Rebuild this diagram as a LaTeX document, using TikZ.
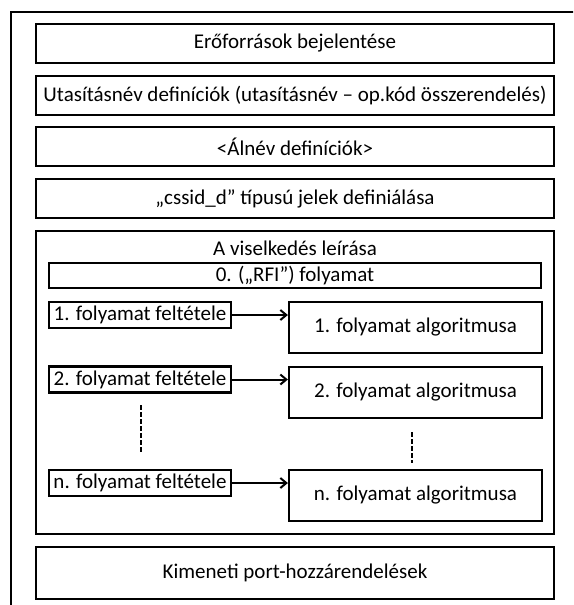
\documentclass[tikz,border=0pt]{standalone}
\usepackage{fontspec}
\setmainfont{Carlito}
\usetikzlibrary{arrows.meta}
\begin{document}
\begin{tikzpicture}[x=1pt,y=-1pt,
  frame/.style={draw, line width=2pt},
  txt/.style={font=\fontsize{21}{24}\selectfont},
  block/.style={draw, line width=2.2pt, inner sep=0pt, align=center, txt},
  wide/.style={block, minimum width=518pt, minimum height=39pt},
  cond/.style={block, minimum width=182pt, minimum height=26pt},
  algo/.style={block, minimum width=253pt, minimum height=51pt},
  flow/.style={line width=2pt, -{Straight Barb[length=6pt,width=10pt,line width=2pt]}},
  skip/.style={line width=2pt, dash pattern=on 4.5pt off 2.5pt}]
  \useasboundingbox (0,0) rectangle (573,605);
  \begin{scope}
    \clip (0,0) rectangle (573,605);
    \draw[frame] (11,12) rectangle (620,660);
  \end{scope}

  % top-level sections
  \node[wide] (res) at (295,43.5) {Erőforrások bejelentése};
  \node[wide] (op) at (295,95.5) {Utasításnév definíciók (utasításnév – op.kód összerendelés)};
  \node[wide] (alias) at (295,146.5) {<Álnév definíciók>};
  \node[wide] (sig) at (295,198.5) {„cssid\_d” típusú jelek definiálása};

  % behaviour section
  \node[block, minimum width=518pt, minimum height=303pt] (beh) at (295,382.5) {};
  \node[txt, inner sep=0pt] (behtitle) at (295,248) {A viselkedés leírása};
  \node[block, minimum width=492pt, minimum height=25pt] (rfi) at (295,275.5) {0. („RFI”) folyamat};

  \node[cond] (c1) at (140,315) {1. folyamat feltétele};
  \node[algo] (a1) at (415.5,327.5) {1. folyamat algoritmusa};
  \node[cond] (c2) at (140,379.5) {2. folyamat feltétele};
  \node[algo] (a2) at (415.5,392.5) {2. folyamat algoritmusa};
  \node[cond] (cn) at (140,483) {n. folyamat feltétele};
  \node[algo] (an) at (415.5,495.5) {n. folyamat algoritmusa};

  \draw[flow] (c1.east) -- (c1.east -| a1.west);
  \draw[flow] (c2.east) -- (c2.east -| a2.west);
  \draw[flow] (cn.east) -- (cn.east -| an.west);

  % elided processes
  \coordinate (lt) at (140.7,405);
  \coordinate (lb) at (140.7,453);
  \coordinate (rt) at (412.3,432);
  \coordinate (rb) at (412.3,463);
  \draw[skip] (lt) -- (lb);
  \draw[skip] (rt) -- (rb);

  % output section
  \node[block, minimum width=518pt, minimum height=52pt] (out) at (295,573) {Kimeneti port-hozzárendelések};
\end{tikzpicture}
\end{document}
